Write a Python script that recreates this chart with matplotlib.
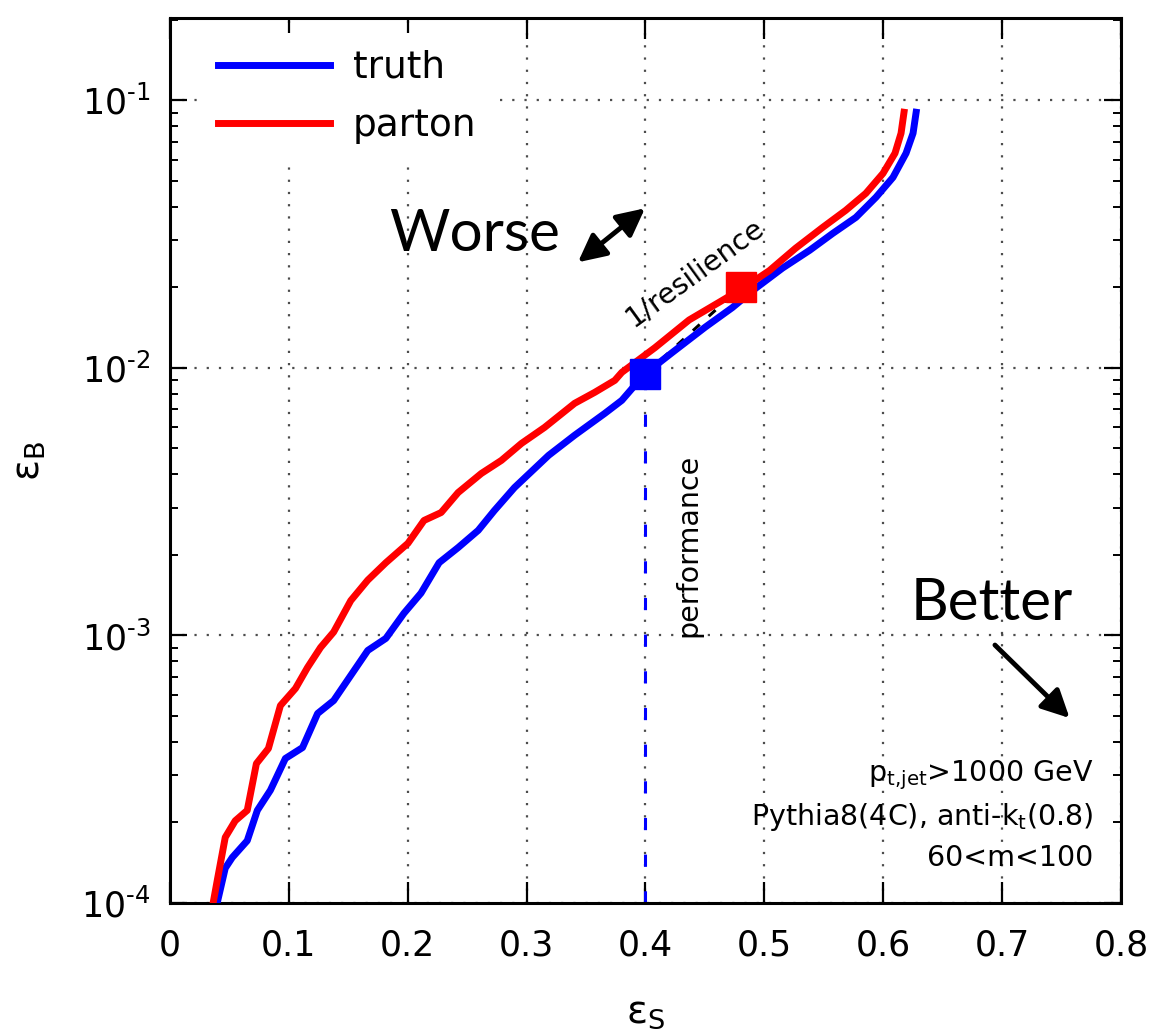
import matplotlib
matplotlib.use("Agg")
import matplotlib.pyplot as plt
from matplotlib.ticker import LogLocator, NullFormatter, FuncFormatter
import numpy as np

# signal efficiency vs background efficiency (truth-level and parton-level)
truth_eff_s = [0.0397, 0.0465, 0.0524, 0.0650, 0.0735, 0.0845, 0.0971, 0.1115, 0.1242, 0.1377,
               0.1664, 0.1816, 0.1968, 0.2112, 0.2264, 0.2424, 0.2593, 0.2729, 0.2898, 0.3185,
               0.3404, 0.3658, 0.3801, 0.3911, 0.4000, 0.4224, 0.4503, 0.4731, 0.4925, 0.5153,
               0.5381, 0.5575, 0.5770, 0.5939, 0.6082, 0.6192, 0.6251, 0.6277]
truth_eff_b = [1.0e-4, 1.35e-4, 1.48e-4, 1.71e-4, 2.22e-4, 2.64e-4, 3.47e-4, 3.81e-4, 5.11e-4, 5.71e-4,
               8.79e-4, 9.75e-4, 1.21e-3, 1.44e-3, 1.87e-3, 2.13e-3, 2.47e-3, 2.93e-3, 3.57e-3, 4.71e-3,
               5.60e-3, 6.76e-3, 7.56e-3, 8.61e-3, 9.53e-3, 1.14e-2, 1.42e-2, 1.68e-2, 1.98e-2, 2.36e-2,
               2.75e-2, 3.18e-2, 3.65e-2, 4.34e-2, 5.15e-2, 6.34e-2, 7.53e-2, 9.02e-2]

parton_eff_s = [0.0363, 0.0397, 0.0465, 0.0549, 0.0650, 0.0727, 0.0828, 0.0929, 0.1056, 0.1157,
                0.1267, 0.1377, 0.1521, 0.1664, 0.1816, 0.2002, 0.2137, 0.2281, 0.2424, 0.2619,
                0.2788, 0.2957, 0.3151, 0.3404, 0.3573, 0.3742, 0.3801, 0.4080, 0.4367, 0.4621,
                0.4832, 0.5043, 0.5263, 0.5491, 0.5685, 0.5854, 0.5998, 0.6099, 0.6150, 0.6175]
parton_eff_b = [1.0e-4, 1.21e-4, 1.76e-4, 2.03e-4, 2.22e-4, 3.32e-4, 3.78e-4, 5.47e-4, 6.34e-4, 7.59e-4,
                9.02e-4, 1.03e-3, 1.35e-3, 1.61e-3, 1.87e-3, 2.21e-3, 2.69e-3, 2.88e-3, 3.42e-3, 4.03e-3,
                4.51e-3, 5.22e-3, 5.99e-3, 7.37e-3, 8.10e-3, 8.98e-3, 9.62e-3, 1.19e-2, 1.51e-2, 1.76e-2,
                2.00e-2, 2.31e-2, 2.80e-2, 3.35e-2, 3.88e-2, 4.49e-2, 5.33e-2, 6.34e-2, 7.53e-2, 9.02e-2]

# working points: truth at eps_S = 0.4, parton at the same cut
truth_wp = (0.40, 9.5e-3)
parton_wp = (0.48, 2.0e-2)

x_ticks = [0, 0.1, 0.2, 0.3, 0.4, 0.5, 0.6, 0.7, 0.8]
x_ticklabels = ["0", "0.1", "0.2", "0.3", "0.4", "0.5", "0.6", "0.7", "0.8"]
info_lines = [r"p$_{\mathregular{t{,}jet}}$>1000 GeV",
              r"Pythia8(4C), anti-k$_{\mathregular{t}}$(0.8)",
              "60<m<100"]

plt.rcParams["font.family"] = ["DejaVu Sans"]
plt.rcParams["mathtext.default"] = "regular"


def decade_label(val, pos):
    # plain hyphen in the exponent instead of a minus sign
    exp = int(round(np.log10(val)))
    return r"$10^{\text{%d}}$" % exp


fig = plt.figure(figsize=(11.65, 10.35), dpi=100)
ax = fig.add_axes([0.1459, 0.1275, 0.8163, 0.8551])

ax.set_yscale("log")
ax.set_xlim(0, 0.8)
ax.set_ylim(1e-4, 0.203)

grid_style = dict(color="black", linestyle=(0, (1, 4.5)), linewidth=1.6, alpha=0.7)
ax.grid(True, which="major", **grid_style)

ax.plot(truth_eff_s, truth_eff_b, color="#0000ff", linewidth=5, label="truth", zorder=3)
ax.plot(parton_eff_s, parton_eff_b, color="#ff0000", linewidth=5, label="parton", zorder=3)

# performance: vertical line down from the truth working point
ax.plot([truth_wp[0], truth_wp[0]], [1e-4, truth_wp[1]], color="#0000ff",
        linewidth=2.2, dashes=(4, 8), zorder=2.5)
# resilience: link between truth and parton working points
ax.plot([truth_wp[0], parton_wp[0]], [truth_wp[1], parton_wp[1]], color="black",
        linewidth=2.2, dashes=(3, 4), zorder=2.5)
ax.plot(*truth_wp, marker="s", markersize=21, color="#0000ff", linestyle="none", zorder=4)
ax.plot(*parton_wp, marker="s", markersize=21, color="#ff0000", linestyle="none", zorder=4)

ax.set_xticks(x_ticks)
ax.set_xticklabels(x_ticklabels)
ax.yaxis.set_major_locator(LogLocator(base=10, numticks=10))
ax.yaxis.set_major_formatter(FuncFormatter(decade_label))
ax.yaxis.set_minor_locator(LogLocator(base=10, subs=range(2, 10), numticks=50))
ax.yaxis.set_minor_formatter(NullFormatter())

ax.tick_params(axis="both", which="major", direction="in", top=True, right=True,
               labelsize=25, width=1.6)
ax.tick_params(axis="x", which="major", length=15, pad=18)
ax.tick_params(axis="y", which="major", length=12, pad=14)
ax.tick_params(axis="y", which="minor", direction="in", left=True, right=True,
               length=6, width=1.4)
ax.tick_params(axis="x", which="minor", bottom=False, top=False)
for spine in ax.spines.values():
    spine.set_linewidth(2.2)

ax.set_xlabel(r"$\varepsilon_S$", fontsize=28, labelpad=22)
ax.set_ylabel(r"$\varepsilon_B$", fontsize=28, labelpad=24)

leg = ax.legend(loc="upper left", bbox_to_anchor=(0.0326, 0.983), fontsize=27,
                frameon=True, handlelength=3.0, handletextpad=0.6, labelspacing=0.6,
                borderpad=0.45, borderaxespad=0.0, fancybox=False)
leg.get_frame().set_edgecolor("none")
leg.get_frame().set_facecolor("white")
leg.get_frame().set_alpha(1.0)
for line in leg.get_lines():
    line.set_linewidth(5)

big_font = dict(family=["Lato", "DejaVu Sans"], fontsize=42)
ax.text(0.3207, 0.755, "Worse", transform=ax.transAxes, ha="center", va="center", **big_font)
ax.text(0.8644, 0.339, "Better", transform=ax.transAxes, ha="center", va="center", **big_font)

arrow_style = dict(color="black", lw=3.5, mutation_scale=42)
ax.annotate("", xy=(0.4995, 0.785), xytext=(0.429, 0.724), xycoords="axes fraction",
            arrowprops=dict(arrowstyle="<|-|>", shrinkA=0, shrinkB=0, **arrow_style))
ax.annotate("", xy=(0.946, 0.209), xytext=(0.8675, 0.2915), xycoords="axes fraction",
            arrowprops=dict(arrowstyle="-|>", shrinkA=0, shrinkB=0, **arrow_style))

ax.text(0.552, 0.713, "1/resilience", transform=ax.transAxes, rotation=36,
        ha="center", va="center", fontsize=20.5, rotation_mode="anchor")
ax.text(0.5447, 0.4045, "performance", transform=ax.transAxes, rotation=90,
        ha="center", va="center", fontsize=20.5)

for y_pos, line in zip([0.1446, 0.0972, 0.0508], info_lines):
    ax.text(0.9706, y_pos, line, transform=ax.transAxes, ha="right", va="center", fontsize=20.5)

fig.savefig("out.png", dpi=100)
plt.close(fig)
